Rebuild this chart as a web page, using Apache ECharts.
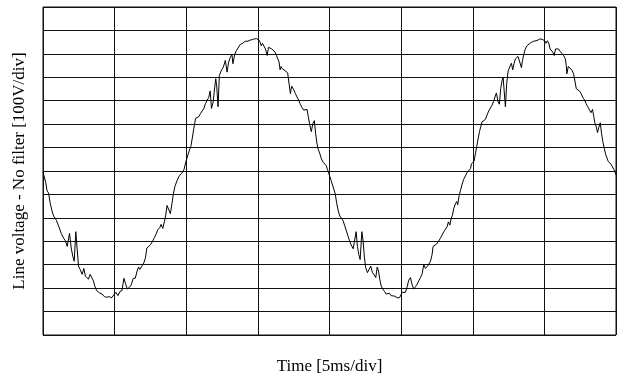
<!DOCTYPE html>
<html>
<head>
<meta charset="utf-8">
<script src="https://cdn.jsdelivr.net/npm/echarts@6/dist/echarts.min.js"></script>
<style>
  html, body { margin: 0; padding: 0; background: #fff; }
  #chart { width: 618px; height: 380px; }
</style>
</head>
<body>
<div id="chart"></div>
<script>
// Oscilloscope trace of the line voltage, unfiltered: time in ms, voltage in V.
const timeMs = [
  0.00, 0.19, 0.28, 0.39, 0.51, 0.65, 0.74, 0.93, 1.11, 1.27, 1.44, 1.57, 1.69, 1.85, 1.97, 2.08, 2.18, 2.29, 2.38, 2.48,
  2.59, 2.73, 2.85, 2.96, 3.06, 3.17, 3.29, 3.40, 3.52, 3.63, 3.75, 3.94, 4.12, 4.28, 4.44, 4.63, 4.77, 4.90,
  5.09, 5.23, 5.37, 5.51, 5.65, 5.76, 5.88, 6.02, 6.16, 6.30, 6.44, 6.57, 6.67, 6.76, 6.90, 7.04, 7.15, 7.25, 7.36,
  7.50, 7.64, 7.78, 7.89, 8.00, 8.15, 8.24, 8.36, 8.47, 8.56, 8.66, 8.77, 8.89, 9.00, 9.10, 9.21, 9.35, 9.51, 9.68,
  9.84, 9.95, 10.05, 10.14, 10.23, 10.32, 10.42, 10.53, 10.65, 10.76, 10.88, 11.00, 11.11, 11.23, 11.34, 11.46,
  11.57, 11.67, 11.76, 11.88, 11.99, 12.06, 12.13, 12.22, 12.31, 12.45, 12.59, 12.73, 12.85, 12.96, 13.08, 13.19,
  13.26, 13.38, 13.50, 13.61, 13.77, 13.94, 14.12, 14.31, 14.47, 14.63, 14.77, 14.91,
  15.00, 15.12, 15.23, 15.32, 15.42, 15.53, 15.65, 15.74, 15.86, 15.97, 16.09, 16.20, 16.30, 16.39, 16.48, 16.55,
  16.62, 16.71, 16.81, 16.94, 17.08, 17.20, 17.27, 17.36, 17.50, 17.62, 17.73, 17.85, 17.96, 18.08, 18.19, 18.31,
  18.43, 18.52, 18.61, 18.73, 18.84, 18.94, 19.03, 19.12, 19.21, 19.33, 19.44, 19.56, 19.68, 19.77, 19.86, 19.95,
  20.05, 20.12, 20.21, 20.30, 20.40, 20.51, 20.63, 20.72, 20.81, 20.93, 21.05, 21.16, 21.28, 21.40, 21.51, 21.65,
  21.74, 21.86, 21.95, 22.05, 22.14, 22.26, 22.35, 22.44, 22.53, 22.65, 22.77, 22.88, 23.00, 23.12, 23.23, 23.33,
  23.42, 23.51, 23.60, 23.72, 23.84, 23.95, 24.07, 24.19, 24.30, 24.42, 24.53, 24.65, 24.77, 24.91,
  25.07, 25.19, 25.30, 25.42, 25.53, 25.65, 25.77, 25.88, 26.00, 26.12, 26.23, 26.35, 26.47, 26.58, 26.70, 26.81,
  26.93, 27.05, 27.16, 27.23, 27.33, 27.47, 27.60, 27.74, 27.86, 27.98, 28.09, 28.21, 28.30, 28.40, 28.49, 28.58,
  28.67, 28.79, 28.88, 28.95, 29.05, 29.14, 29.26, 29.37, 29.49, 29.60, 29.72, 29.84,
  29.91, 30.00, 30.09, 30.19, 30.28, 30.37, 30.47, 30.56, 30.65, 30.77, 30.88, 31.00, 31.12, 31.23, 31.35, 31.44,
  31.53, 31.65, 31.77, 31.86, 31.95, 32.05, 32.12, 32.19, 32.28, 32.37, 32.47, 32.58, 32.70, 32.79, 32.88, 32.98,
  33.09, 33.16, 33.28, 33.40, 33.47, 33.56, 33.67, 33.79, 33.93, 34.09, 34.26, 34.42, 34.56, 34.70, 34.84,
  34.93, 35.02, 35.12, 35.21, 35.31, 35.40, 35.49, 35.59, 35.68, 35.78, 35.87, 35.99, 36.10, 36.22, 36.34, 36.46,
  36.53, 36.57, 36.67, 36.76, 36.85, 36.95, 37.04, 37.14, 37.23, 37.32, 37.44, 37.56, 37.68, 37.79, 37.91, 38.03,
  38.15, 38.26, 38.36, 38.45, 38.52, 38.62, 38.71, 38.80, 38.90, 38.99, 39.08, 39.18, 39.27, 39.37, 39.46, 39.58,
  39.67, 39.77, 39.86, 39.95, 40.00
];
const volts = [
  -5, -49, -84, -94, -140, -175, -192, -210, -238, -266, -287, -298, -322, -266, -329, -364, -385, -259, -329, -406,
  -420, -441, -416, -448, -441, -462, -441, -434, -469, -494, -511, -520, -525, -536, -539, -536, -542, -543,
  -518, -532, -514, -511, -458, -480, -504, -497, -486, -458, -458, -427, -410, -420, -406, -392, -371, -329, -336,
  -315, -301, -284, -270, -252, -242, -228, -245, -217, -192, -147, -140, -182, -140, -98, -66, -42, -21, -10,
  6, 34, 55, 62, 90, 105, 140, 182, 225, 218, 232, 246, 253, 267, 288, 302,
  314, 342, 267, 295, 359, 394, 359, 274, 408, 429, 444, 472, 422, 465, 486, 497,
  458, 497, 514, 521, 540, 545, 554, 554, 559, 561, 564, 565,
  559, 556, 535, 545, 549, 521, 493, 528, 525, 521, 514, 507, 493, 479, 465, 432,
  446, 436, 429, 427, 418, 412, 330, 362, 347, 330, 316, 302, 285, 271, 260, 253,
  263, 232, 201, 168, 203, 215, 161, 119, 93, 73, 51, 37, 31, 23, 6, -11,
  -28, -42, -42, -77, -98, -140, -175, -192, -196, -210, -231, -252, -276, -298, -315, -332,
  -340, -259, -322, -357, -378, -259, -301, -371, -413, -434, -441, -406, -434, -444, -455, -410,
  -427, -462, -490, -504, -514, -525, -532, -522, -532, -525, -534, -539, -542, -539,
  -518, -511, -518, -494, -466, -455, -486, -504, -494, -483, -469, -455, -438, -399, -416, -410,
  -399, -385, -357, -322, -326, -312, -301, -287, -273, -259, -252, -238, -217, -231, -203, -189,
  -161, -140, -130, -144, -105, -84, -56, -35, -21, -7, 0, 10,
  31, 27, 41, 76, 105, 136, 168, 189, 210, 215, 220, 239, 257, 263, 281, 295,
  302, 333, 295, 285, 352, 387, 401, 345, 274, 373, 427, 444, 460, 432, 458, 479,
  486, 489, 465, 441, 472, 497, 521, 535, 542, 549, 554, 556, 559, 564, 562,
  559, 556, 545, 556, 545, 521, 514, 507, 493, 521, 528, 521, 511, 503, 493, 479,
  450, 415, 446, 450, 436, 427, 415, 408, 351, 344, 342, 331, 314, 305, 288, 274,
  260, 249, 263, 232, 206, 189, 164, 186, 206, 161, 126, 97, 73, 55, 41, 34,
  27, 23, 6, -8, -16
];

// Scope graticule: 8 horizontal divisions of 5 ms, 14 vertical divisions of 100 V
const timeRange = [0, 40];
const timeDiv = 5;
const voltRange = [-700, 700];
const voltDiv = 100;
const xTitle = 'Time [5ms/div]';
const yTitle = 'Line voltage - No filter [100V/div]';

const trace = timeMs.map((t, i) => [t, volts[i]]);

const chart = echarts.init(document.getElementById('chart'), null, { renderer: 'canvas' });
const gridLine = { show: true, lineStyle: { color: '#111', width: 1 } };
const textFont = { fontFamily: '"Liberation Serif", "DejaVu Serif", serif', fontSize: 17, color: '#000' };

chart.setOption({
  animation: false,
  backgroundColor: '#fff',
  grid: { left: 43, top: 7, right: 2, bottom: 41, show: true, borderColor: '#111', borderWidth: 1 },
  xAxis: {
    type: 'value', min: timeRange[0], max: timeRange[1], interval: timeDiv,
    axisLine: { show: false }, axisTick: { show: false }, axisLabel: { show: false },
    splitLine: gridLine,
    name: xTitle, nameLocation: 'middle', nameGap: 23,
    nameTextStyle: textFont
  },
  yAxis: {
    type: 'value', min: voltRange[0], max: voltRange[1], interval: voltDiv,
    axisLine: { show: false }, axisTick: { show: false }, axisLabel: { show: false },
    splitLine: gridLine,
    name: yTitle, nameLocation: 'middle', nameGap: 15, nameRotate: 90,
    nameTextStyle: textFont
  },
  series: [{
    type: 'line',
    data: trace,
    showSymbol: false,
    smooth: false,
    lineStyle: { color: '#000', width: 1 },
    silent: true
  }]
});
</script>
</body>
</html>
